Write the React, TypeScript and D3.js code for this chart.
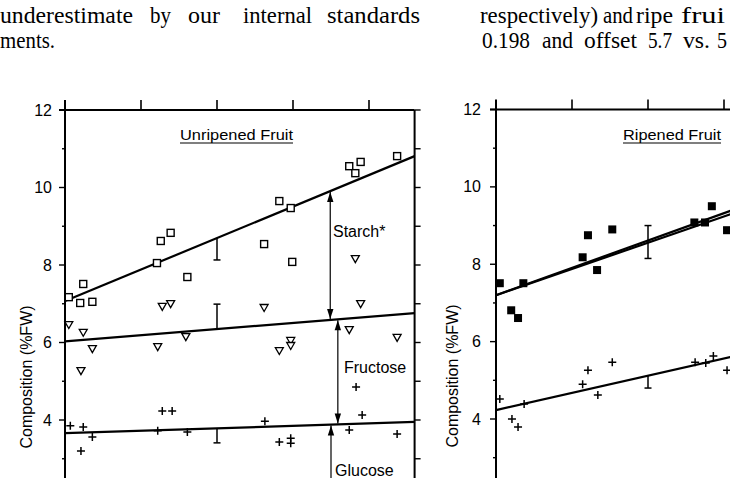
import React from 'react';
import * as d3 from 'd3';

// ---------- data ----------
const yMajorTicks = [4, 6, 8, 10, 12];
const yAllTicks = [3, 4, 5, 6, 7, 8, 9, 10, 11, 12];
const xTopTicks = [1, 2, 3, 4];
const X_MAX = 4.6;

// Unripened fruit (x in axis units, y in %FW)
const unripeStarch: [number, number][] = [
  [0.05, 7.17], [0.2, 7.02], [0.36, 7.05], [0.24, 7.51], [1.21, 8.05], [1.26, 8.62],
  [1.39, 8.83], [1.61, 7.69], [2.62, 8.54], [2.82, 9.65], [2.97, 9.47], [2.99, 8.08],
  [3.74, 10.55], [3.82, 10.37], [3.89, 10.66], [4.37, 10.81],
];
const unripeFructose: [number, number][] = [
  [0.05, 6.45], [0.24, 6.25], [0.36, 5.83], [0.21, 5.26], [1.22, 5.88], [1.28, 6.92],
  [1.39, 6.99], [1.59, 6.14], [2.62, 6.89], [2.82, 5.78], [2.97, 6.04], [2.97, 5.91],
  [3.74, 6.32], [3.82, 8.15], [3.89, 6.99], [4.37, 6.12],
];
const unripeGlucose: [number, number][] = [
  [0.07, 3.85], [0.24, 3.82], [0.36, 3.56], [0.21, 3.2], [1.22, 3.72], [1.28, 4.23],
  [1.41, 4.23], [1.61, 3.69], [2.63, 3.97], [2.82, 3.43], [2.97, 3.53], [2.97, 3.4],
  [3.74, 3.74], [3.83, 4.85], [3.91, 4.13], [4.37, 3.64],
];
const unripeStarchFit = [7.07, 10.81];
const unripeFructoseFit = [6.03, 6.76];
const unripeGlucoseFit = [3.66, 3.95];
// error bars: [x, from, to]
const unripeErrors: [number, number, number][] = [
  [2, 8.7, 8.13], [2, 6.35, 6.99], [2, 3.79, 3.41],
];

// Ripened fruit
const ripeTotal: [number, number][] = [
  [0.05, 7.51], [0.2, 6.81], [0.29, 6.61], [0.36, 7.51], [1.14, 8.18], [1.21, 8.75],
  [1.33, 7.85], [1.53, 8.9], [2.61, 9.08], [2.75, 9.08], [2.84, 9.5], [3.04, 8.88],
];
const ripeSugar: [number, number][] = [
  [0.05, 4.52], [0.21, 4.0], [0.29, 3.79], [0.37, 4.39], [1.14, 4.9], [1.21, 5.26],
  [1.34, 4.62], [1.53, 5.47], [2.62, 5.47], [2.76, 5.45], [2.86, 5.63], [3.04, 5.26],
];
const ripeTotalFitA = [7.2, 10.45];
const ripeTotalFitB = [7.2, 10.32];
const ripeSugarFit = [4.23, 6.28];
const ripeErrors: [number, number, number][] = [
  [2, 9.0, 8.15], [2, 5.12, 4.8],
];

const line1Words: [string, number, number][] = [
  ['underestimate', 0, 133], ['by', 150, 21], ['our', 188, 32], ['internal', 243, 69],
  ['standards', 327, 93], ['respectively)', 480, 118], ['and', 603, 30], ['ripe', 636, 37],
  ['frui', 681, 44],
];
const line2Words: [string, number, number][] = [
  ['ments.', 0, 55], ['0.198', 482, 48], ['and', 542, 31], ['offset', 584, 53],
  ['5.7', 648, 24], ['vs.', 683, 27], ['5', 717, 10],
];

// ---------- drawing helpers ----------
const SANS = 'Liberation Sans, Arial, Helvetica, sans-serif';
const SERIF = 'Liberation Serif, Times New Roman, serif';
const BOTTOM = 478;

type Sc = d3.ScaleLinear<number, number>;

function OpenSquare({ cx, cy }: { cx: number; cy: number }) {
  return <rect x={cx - 3.5} y={cy - 3.5} width={7} height={7} fill="white" stroke="black" strokeWidth={1.4} />;
}
function FilledSquare({ cx, cy }: { cx: number; cy: number }) {
  return <rect x={cx - 4} y={cy - 4} width={8} height={8} fill="black" />;
}
function DownTri({ cx, cy }: { cx: number; cy: number }) {
  return (
    <path d={`M${cx - 4},${cy - 3.5}L${cx + 4},${cy - 3.5}L${cx},${cy + 3.5}Z`} fill="white" stroke="black" strokeWidth={1.3} />
  );
}
function Plus({ cx, cy }: { cx: number; cy: number }) {
  return <path d={`M${cx - 4},${cy}H${cx + 4}M${cx},${cy - 4}V${cy + 4}`} stroke="black" strokeWidth={1.5} />;
}

function Arrow({ x, y1, y2, head1, head2 }: { x: number; y1: number; y2: number; head1: boolean; head2: boolean }) {
  const hl = 10, hw = 3.2;
  return (
    <g>
      <line x1={x} x2={x} y1={y1} y2={y2} stroke="black" strokeWidth={1.2} />
      {head1 && <path d={`M${x},${y1}L${x - hw},${y1 + hl}L${x + hw},${y1 + hl}Z`} fill="black" />}
      {head2 && <path d={`M${x},${y2}L${x - hw},${y2 - hl}L${x + hw},${y2 - hl}Z`} fill="black" />}
    </g>
  );
}

function Axes({ x, y, right }: { x: Sc; y: Sc; right: boolean }) {
  const x0 = x(0);
  const x1 = x(X_MAX);
  const yTop = y(12);
  return (
    <g stroke="black" strokeWidth={2} fill="none">
      <line x1={x0} x2={x0} y1={yTop - 10} y2={BOTTOM + 5} />
      <line x1={x0 - 6} x2={Math.min(x1, 740)} y1={yTop} y2={yTop} />
      {right && <line x1={x1} x2={x1} y1={yTop} y2={BOTTOM + 5} />}
      {xTopTicks.map((t) => (
        <line key={'xt' + t} x1={x(t)} x2={x(t)} y1={yTop} y2={yTop - 10} strokeWidth={1.6} />
      ))}
      {yAllTicks.map((t) => {
        const major = yMajorTicks.includes(t);
        return <line key={'yl' + t} x1={x0} x2={x0 - (major ? 6 : 3)} y1={y(t)} y2={y(t)} strokeWidth={1.4} />;
      })}
      {right &&
        yAllTicks.map((t) => (
          <line key={'yr' + t} x1={x1} x2={x1 + 6} y1={y(t)} y2={y(t)} strokeWidth={1.4} />
        ))}
    </g>
  );
}

function TickLabels({ y, labelX }: { y: Sc; labelX: number }) {
  return (
    <g fontFamily={SANS} fontSize={16} textAnchor="end">
      {yMajorTicks.map((t) => (
        <text key={t} x={labelX} y={y(t) + 5.5}>
          {t}
        </text>
      ))}
    </g>
  );
}

function ErrorBars({ x, y, data }: { x: Sc; y: Sc; data: [number, number, number][] }) {
  return (
    <g stroke="black" strokeWidth={1.5}>
      {data.map(([xv, a, b], i) => (
        <g key={i}>
          <line x1={x(xv)} x2={x(xv)} y1={y(a)} y2={y(b)} />
          <line x1={x(xv) - 3.5} x2={x(xv) + 3.5} y1={y(b)} y2={y(b)} />
        </g>
      ))}
    </g>
  );
}

function fitPath(x: Sc, y: Sc, fit: number[]) {
  const gen = d3
    .line<[number, number]>()
    .x((d) => x(d[0]))
    .y((d) => y(d[1]));
  return gen([
    [0, fit[0]],
    [X_MAX, fit[1]],
  ]) as string;
}
const fitAt = (fit: number[], xv: number) => fit[0] + ((fit[1] - fit[0]) * xv) / X_MAX;

export default function App() {
  const yL = d3.scaleLinear().domain([4, 12]).range([420, 110]);
  const xL = d3.scaleLinear().domain([0, X_MAX]).range([65, 65 + 76 * X_MAX]);
  const yR = d3.scaleLinear().domain([4, 12]).range([419, 109.5]);
  const xR = d3.scaleLinear().domain([0, X_MAX]).range([496, 496 + 76 * X_MAX]);

  const aStarchX = 3.49;
  const aFrucX = 3.59;
  const aGlucX = 3.5;

  return (
    <svg
      width={730}
      height={478}
      viewBox="0 0 730 478"
      style={{ position: 'absolute', left: 0, top: 0, background: 'white' }}
    >
      <rect x={0} y={0} width={730} height={478} fill="white" />
      {/* running text */}
      <g fontFamily={SERIF} fontSize={23} fill="black">
        {line1Words.map(([w, xx, len], i) => (
          <text key={'a' + i} x={xx} y={23} textLength={len} lengthAdjust="spacingAndGlyphs">
            {w}
          </text>
        ))}
        {line2Words.map(([w, xx, len], i) => (
          <text key={'b' + i} x={xx} y={48} textLength={len} lengthAdjust="spacingAndGlyphs">
            {w}
          </text>
        ))}
      </g>

      {/* ---------- left panel ---------- */}
      <Axes x={xL} y={yL} right={true} />
      <TickLabels y={yL} labelX={52} />
      <text transform="translate(32,377) rotate(-90)" fontFamily={SANS} fontSize={16} textAnchor="middle">
        Composition (%FW)
      </text>
      <text x={180} y={140} fontFamily={SANS} fontSize={15.5} textLength={113} lengthAdjust="spacingAndGlyphs">
        Unripened Fruit
      </text>
      <line x1={180} x2={293} y1={143} y2={143} stroke="black" strokeWidth={1.2} />
      <g fill="none" stroke="black" strokeWidth={2.2}>
        <path d={fitPath(xL, yL, unripeStarchFit)} />
        <path d={fitPath(xL, yL, unripeFructoseFit)} />
        <path d={fitPath(xL, yL, unripeGlucoseFit)} />
      </g>
      <ErrorBars x={xL} y={yL} data={unripeErrors} />
      {unripeStarch.map(([a, b], i) => (
        <OpenSquare key={'us' + i} cx={xL(a)} cy={yL(b)} />
      ))}
      {unripeFructose.map(([a, b], i) => (
        <DownTri key={'uf' + i} cx={xL(a)} cy={yL(b)} />
      ))}
      {unripeGlucose.map(([a, b], i) => (
        <Plus key={'ug' + i} cx={xL(a)} cy={yL(b)} />
      ))}
      <Arrow
        x={xL(aStarchX)}
        y1={yL(fitAt(unripeStarchFit, aStarchX)) + 1}
        y2={yL(fitAt(unripeFructoseFit, aStarchX)) - 1}
        head1={true}
        head2={true}
      />
      <Arrow
        x={xL(aFrucX)}
        y1={yL(fitAt(unripeFructoseFit, aFrucX)) + 1}
        y2={yL(fitAt(unripeGlucoseFit, aFrucX)) - 1}
        head1={true}
        head2={true}
      />
      <Arrow x={xL(aGlucX)} y1={yL(fitAt(unripeGlucoseFit, aGlucX)) + 1} y2={BOTTOM + 5} head1={true} head2={false} />
      <g fontFamily={SANS} fontSize={16}>
        <text x={333} y={237}>Starch*</text>
        <text x={344} y={373}>Fructose</text>
        <text x={335} y={476}>Glucose</text>
      </g>

      {/* ---------- right panel ---------- */}
      <Axes x={xR} y={yR} right={false} />
      <TickLabels y={yR} labelX={481} />
      <text transform="translate(458,376) rotate(-90)" fontFamily={SANS} fontSize={16} textAnchor="middle">
        Composition (%FW)
      </text>
      <text x={623} y={140} fontFamily={SANS} fontSize={15.5} textLength={98} lengthAdjust="spacingAndGlyphs">
        Ripened Fruit
      </text>
      <line x1={623} x2={721} y1={143} y2={143} stroke="black" strokeWidth={1.2} />
      <g fill="none" stroke="black" strokeWidth={2.2}>
        <path d={fitPath(xR, yR, ripeTotalFitA)} />
        <path d={fitPath(xR, yR, ripeTotalFitB)} />
        <path d={fitPath(xR, yR, ripeSugarFit)} />
      </g>
      <g stroke="black" strokeWidth={1.5}>
        <line x1={xR(2)} x2={xR(2)} y1={yR(ripeErrors[0][1])} y2={yR(ripeErrors[0][2])} />
        <line x1={xR(2) - 3.5} x2={xR(2) + 3.5} y1={yR(ripeErrors[0][1])} y2={yR(ripeErrors[0][1])} />
        <line x1={xR(2) - 3.5} x2={xR(2) + 3.5} y1={yR(ripeErrors[0][2])} y2={yR(ripeErrors[0][2])} />
        <line x1={xR(2)} x2={xR(2)} y1={yR(ripeErrors[1][1])} y2={yR(ripeErrors[1][2])} />
        <line x1={xR(2) - 3.5} x2={xR(2) + 3.5} y1={yR(ripeErrors[1][2])} y2={yR(ripeErrors[1][2])} />
      </g>
      {ripeTotal.map(([a, b], i) => (
        <FilledSquare key={'rt' + i} cx={xR(a)} cy={yR(b)} />
      ))}
      {ripeSugar.map(([a, b], i) => (
        <Plus key={'rs' + i} cx={xR(a)} cy={yR(b)} />
      ))}
    </svg>
  );
}
